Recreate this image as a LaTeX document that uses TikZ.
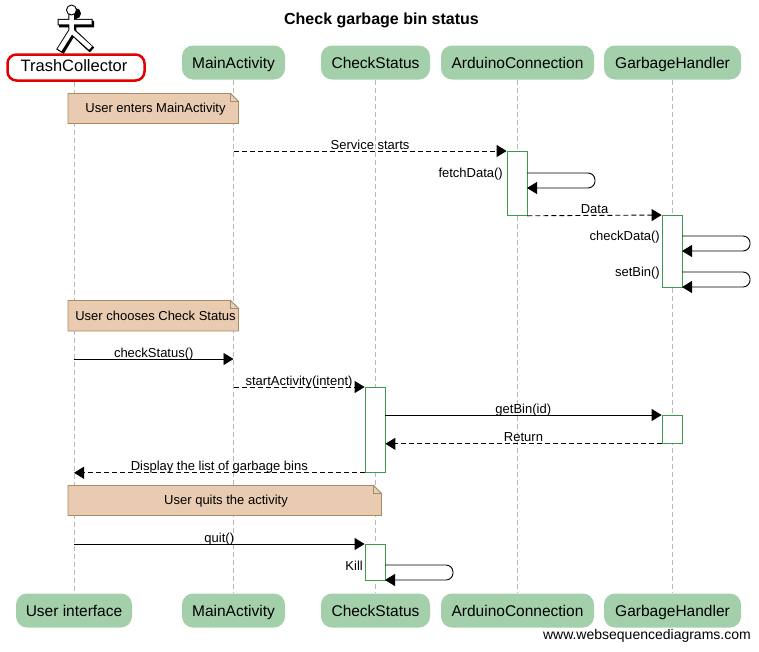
\documentclass[tikz,border=0pt]{standalone}
\usepackage{fontspec}
\setmainfont{Liberation Sans}
\usetikzlibrary{arrows.meta,shapes.misc}
\definecolor{actgreen}{HTML}{A3D0AB}
\definecolor{notefill}{HTML}{E8CBB0}
\definecolor{noteline}{HTML}{AB8C62}
\definecolor{barline}{HTML}{3C9C4C}
\tikzset{
  actor/.style={fill=actgreen, rounded corners=11pt, minimum height=34pt, inner sep=0pt, font=\fontsize{15.5}{18}\selectfont, text height=12pt, text depth=0pt},
  life/.style={gray!55, dashed, dash pattern=on 5pt off 3pt, line width=.8pt},
  msg/.style={-{Triangle[length=10pt,width=12pt]}, line width=.9pt},
  dmsg/.style={msg, dash pattern=on 5pt off 3pt},
  loopmsg/.style={msg, rounded corners=7pt},
  bar/.style={draw=barline, fill=white, line width=.8pt, minimum width=20pt, inner sep=0pt, anchor=north},
  lbl/.style={font=\fontsize{13}{15}\selectfont, inner sep=0pt},
  mlbl/.style={lbl, above=0pt, text height=9.5pt, text depth=1.5pt},
  notebox/.style={draw=noteline, fill=notefill, line width=.8pt, line join=miter},
  fold/.style={draw=noteline, fill=notefill!70!gray!60!white, line width=.8pt}
}
% note with a folded corner: x0, y0, x1, y1
\newcommand{\notefold}[4]{
  \draw[notebox] (#1,#2) -- (#3-8,#2) -- (#3,#2+8) -- (#3,#4) -- (#1,#4) -- cycle;
  \draw[fold] (#3-8,#2) -- (#3-8,#2+8) -- (#3,#2+8) -- cycle;
}
\begin{document}
\begin{tikzpicture}[x=1pt,y=-1pt]
  \useasboundingbox (0,0) rectangle (759,651);

  \node[font=\bfseries\fontsize{16}{18}\selectfont, inner sep=0pt] (title) at (381.5,20) {Check garbage bin status};

  % Actors (top)
  \node[draw=red!90!black, line width=2.5pt, fill=white, rounded corners=9pt, minimum width=137pt, minimum height=26pt, inner sep=0pt] (trash) at (76,67.5) {};
  \node[font=\fontsize{16.5}{18}\selectfont, inner sep=0pt, text height=7pt, text depth=0pt] (trashL) at (74,67.5) {TrashCollector};
  \node[actor, minimum width=103pt] (main) at (233.5,62.5) {MainActivity};
  \node[actor, minimum width=109pt] (check) at (375.5,62.5) {CheckStatus};
  \node[actor, minimum width=153pt] (arduino) at (517.5,62.5) {ArduinoConnection};
  \node[actor, minimum width=137pt] (garbage) at (672.5,62.5) {GarbageHandler};

  % Actors (bottom)
  \node[actor, minimum width=116pt] (user) at (74,610.5) {User interface};
  \node[actor, minimum width=103pt] (mainB) at (233.5,610.5) {MainActivity};
  \node[actor, minimum width=109pt] (checkB) at (375.5,610.5) {CheckStatus};
  \node[actor, minimum width=153pt] (arduinoB) at (517.5,610.5) {ArduinoConnection};
  \node[actor, minimum width=137pt] (garbageB) at (672.5,610.5) {GarbageHandler};

  % Stick figure
  \fill[black] (75.5,13.5) circle (5.5);
  \draw[black, line width=6.5pt] (73,14) -- (73,32) (59,24) -- (94,24) (73,32) -- (61,52) (73,32) -- (92,50);
  \draw[black, line width=6.5pt] (71.5,14) -- (71.5,31) (57.5,22) -- (92.5,22) (71.5,31) -- (59,51) (71.5,31) -- (91,49);
  \draw[white, line width=4.5pt] (71.5,14) -- (71.5,31) (58.5,22) -- (91.5,22) (71.5,31) -- (59.5,50) (71.5,31) -- (90.5,48);
  \draw[black, fill=white, line width=.9pt] (71.5,10) circle (5);

  % Lifelines
  \draw[life] (74,82) -- (user.north);
  \draw[life] (main.south) -- (mainB.north);
  \draw[life] (check.south) -- (checkB.north);
  \draw[life] (arduino.south) -- (arduinoB.north);
  \draw[life] (garbage.south) -- (garbageB.north);

  % Notes
  \notefold{68}{93.5}{238.5}{123.5}
  \node[lbl] (note1) at (155.5,109) {User enters MainActivity};
  \notefold{68}{300.5}{238.5}{331}
  \node[lbl] (note2) at (155.5,316) {User chooses Check Status};
  \notefold{68}{485.5}{381.5}{515.5}
  \node[lbl] (note3) at (226,501.5) {User quits the activity};

  % Bars
  \node[bar, minimum height=64pt] (barA) at (517,151) {};
  \node[bar, minimum height=72pt] (barB) at (672,215) {};
  \node[bar, minimum height=85pt] (barC) at (375,387) {};
  \node[bar, minimum height=28pt] (barD) at (672,415) {};
  \node[bar, minimum height=36pt] (barE) at (375,544) {};

  % Free ends of the messages
  \coordinate (fetchOut) at (527,173);
  \coordinate (fetchIn) at (527,188);
  \coordinate (checkOut) at (682,236);
  \coordinate (checkIn) at (682,251);
  \coordinate (setOut) at (682,272);
  \coordinate (setIn) at (682,287);
  \coordinate (getOut) at (385,415);
  \coordinate (chooseY) at (0,359);
  \coordinate (killOut) at (385,565);
  \coordinate (killIn) at (385,580);

  % Messages
  \draw[dmsg] (main |- barA.north) -- node[mlbl] {Service starts} (barA.north west);
  \draw[loopmsg] (fetchOut) -- ++(68,0) -- ++(0,15) -- (fetchIn);
  \node[lbl, anchor=east] (fetchL) at (503,174) {fetchData()};
  \draw[dmsg] (barA.south east) -- node[mlbl] {Data} (barB.north west);
  \draw[loopmsg] (checkOut) -- ++(68,0) -- ++(0,15) -- (checkIn);
  \node[lbl, anchor=east] (checkL) at (660,237) {checkData()};
  \draw[loopmsg] (setOut) -- ++(68,0) -- ++(0,15) -- (setIn);
  \node[lbl, anchor=east] (setL) at (660,273) {setBin()};
  \draw[msg] (user |- chooseY) -- node[mlbl] {checkStatus()} (main |- chooseY);
  \draw[dmsg] (main |- barC.north) -- node[mlbl] {startActivity(intent)} (barC.north west);
  \draw[msg] (getOut) -- node[mlbl] {getBin(id)} (barD.north west);
  \draw[dmsg] (barD.south west) -- node[mlbl] {Return} (barC.east |- barD.south);
  \draw[dmsg] (barC.south west) -- node[mlbl] {Display the list of garbage bins} (user |- barC.south);
  \draw[msg] (user |- barE.north) -- node[mlbl] {quit()} (barE.north west);
  \draw[loopmsg] (killOut) -- ++(68,0) -- ++(0,15) -- (killIn);
  \node[lbl, anchor=east] (killL) at (363,566) {Kill};

  \node[font=\fontsize{14}{16}\selectfont, anchor=east, inner sep=0pt] (site) at (751,636) {www.websequencediagrams.com};
\end{tikzpicture}
\end{document}
